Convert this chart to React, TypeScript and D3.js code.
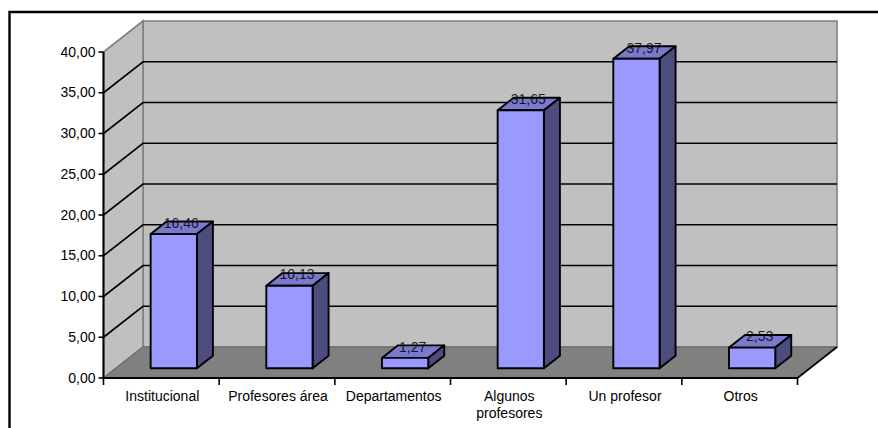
import React from "react";
import * as d3 from "d3";

const categories = ["Institucional", "Profesores área", "Departamentos", "Algunos profesores", "Un profesor", "Otros"];
const categoryLines = [["Institucional"], ["Profesores área"], ["Departamentos"], ["Algunos", "profesores"], ["Un profesor"], ["Otros"]];
const values = [16.46, 10.13, 1.27, 31.65, 37.97, 2.53];
const valueLabels = ["16,46", "10,13", "1,27", "31,65", "37,97", "2,53"];
const yTicks = [0, 5, 10, 15, 20, 25, 30, 35, 40];

const FONT = "'Liberation Sans', Arial, sans-serif";
const depthX = 39.5;
const depthY = -31;
const barNear = 0.315;
const barFar = 0.72;

const x = d3.scaleBand<string>().domain(categories).range([103.5, 797.5]).paddingInner(0).paddingOuter(0);
const y = d3.scaleLinear().domain([0, 40]).range([378, 52]);
const pts = (p: number[][]) => p.map((a) => a.join(",")).join(" ");
const fmt = (v: number) => v.toFixed(2).replace(".", ",");

export default function App() {
  const x0 = x.range()[0];
  const x1 = x.range()[1];
  const y0 = y(0);
  const yT = y(40);
  const bw = x.bandwidth();
  const barW = bw * 0.4;
  return (
    <svg width={878} height={428} style={{ position: "absolute", left: 0, top: 0, background: "#fff" }} fontFamily={FONT}>
      <path d="M9.5 428V12H878" fill="none" stroke="#000" strokeWidth={2.4} />
      {/* walls */}
      <polygon points={pts([[x0 + depthX, yT + depthY], [x1 + depthX, yT + depthY], [x1 + depthX, y0 + depthY], [x0 + depthX, y0 + depthY]])} fill="#c0c0c0" stroke="#808080" strokeWidth={1.6} />
      <polygon points={pts([[x0, yT], [x0 + depthX, yT + depthY], [x0 + depthX, y0 + depthY], [x0, y0]])} fill="#c0c0c0" stroke="#808080" strokeWidth={1.6} />
      <polygon points={pts([[x0, y0], [x1, y0], [x1 + depthX, y0 + depthY], [x0 + depthX, y0 + depthY]])} fill="#808080" stroke="#666" strokeWidth={1} />
      <line x1={x1} y1={y0} x2={x1 + depthX} y2={y0 + depthY} stroke="#000" strokeWidth={1.6} />
      {/* gridlines */}
      {yTicks.slice(1, -1).map((t) => (
        <path key={t} d={`M${x0} ${y(t)}L${x0 + depthX} ${y(t) + depthY}H${x1 + depthX}`} fill="none" stroke="#000" strokeWidth={1.6} />
      ))}
      {/* bars */}
      {categories.map((c, i) => {
        const l = x(c)! + (bw - barW) / 2 + depthX * barNear;
        const r = l + barW;
        const b = y0 + depthY * barNear;
        const t = y(values[i]) + depthY * barNear;
        const dx = depthX * (barFar - barNear);
        const dy = depthY * (barFar - barNear);
        return (
          <g key={c} stroke="#000" strokeWidth={1.9} strokeLinejoin="round">
            <polygon points={pts([[l, t], [r, t], [r + dx, t + dy], [l + dx, t + dy]])} fill="#7a7acc" />
            <polygon points={pts([[r, t], [r + dx, t + dy], [r + dx, b + dy], [r, b]])} fill="#4c4c7f" />
            <rect x={l} y={t} width={barW} height={b - t} fill="#9999ff" />
          </g>
        );
      })}
      {/* axes */}
      <line x1={x0} y1={yT} x2={x0} y2={y0} stroke="#000" strokeWidth={2} />
      <line x1={x0} y1={y0} x2={x1} y2={y0} stroke="#000" strokeWidth={2} />
      {yTicks.map((t) => (
        <g key={t}>
          <line x1={x0 - 5} x2={x0} y1={y(t)} y2={y(t)} stroke="#000" strokeWidth={1.6} />
          <text x={95.5} y={y(t) + 4.5} textAnchor="end" fontSize={14} fill="#000">{fmt(t)}</text>
        </g>
      ))}
      {[...categories.map((c) => x(c)!), x1].map((tx, i) => (
        <line key={i} x1={tx} x2={tx} y1={y0} y2={y0 + 7} stroke="#000" strokeWidth={1.6} />
      ))}
      {categories.map((c, i) => (
        <text key={c} textAnchor="middle" fontSize={14} fill="#000">
          {categoryLines[i].map((ln, j) => (
            <tspan key={j} x={x(c)! + bw / 2 + 1} y={400.5 + j * 17.5}>{ln}</tspan>
          ))}
        </text>
      ))}
      {/* value labels */}
      {categories.map((c, i) => (
        <text key={c} x={x(c)! + bw / 2 + 20} y={y(values[i]) - 16} textAnchor="middle" fontSize={14} fill="#000" fillOpacity={0.85}>
          {valueLabels[i]}
        </text>
      ))}
    </svg>
  );
}
